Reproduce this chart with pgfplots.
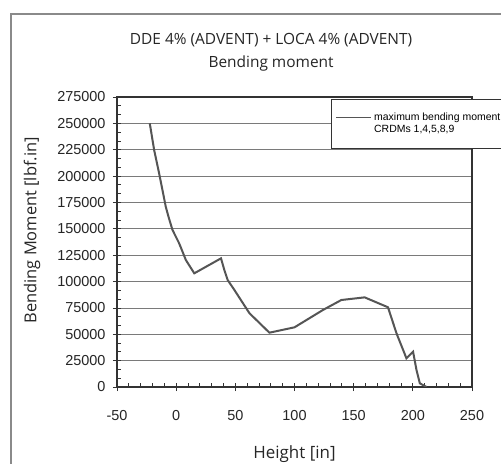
\documentclass[border=0pt]{standalone}
\usepackage{pgfplots}
\pgfplotsset{compat=1.18}
\usepackage{fontspec}
\setmainfont{Liberation Sans}
\newfontfamily\titlefont{Open Sans}
\definecolor{curve}{HTML}{555555}
\definecolor{gridc}{HTML}{7A7A7A}
\definecolor{framec}{HTML}{8A8A8A}
\pgfplotstableread{
h v
-22.3 250000
-18.6 224700
-14.4 202600
-11.6 186800
-8.8 171000
-6.5 161500
-3.1 148900
2.5 136300
8.2 120400
15.3 107800
37.9 122000
40.7 111000
43.5 101500
49.2 92000
61.9 70000
78.8 51500
100.0 56600
124.0 73000
139.6 82500
159.3 85000
179.0 75600
186.2 50900
194.6 27200
200.2 33500
203.1 16100
205.9 3500
211.6 0
}\momentdata
\begin{document}
\begin{tikzpicture}
\path[use as bounding box, clip] (0,0) rectangle (501bp,464bp);
\fill[white] (0,0) rectangle (501bp,464bp);
\draw[framec, line width=1.1bp] (11bp,0) -- (11bp,450bp) -- (520bp,450bp);
\begin{axis}[
  at={(117bp,77bp)}, anchor=south west,
  scale only axis, width=355bp, height=290bp,
  xmin=-50, xmax=250, ymin=0, ymax=275000,
  xtick={-50,0,...,250},
  ytick={0,25000,...,275000},
  minor x tick num=4,
  minor y tick num=2,
  scaled y ticks=false,
  yticklabel style={/pgf/number format/fixed, /pgf/number format/1000 sep={}, xshift=-4bp},
  xticklabel style={yshift=-16bp},
  /pgf/number format/assume math mode=true,
  tick label style={font=\fontsize{14.5}{16}\selectfont, text=black!85},
  xtick pos=bottom, ytick pos=left,
  tick align=center,
  major tick length=8bp, minor tick length=4bp,
  minor x tick style={yshift=2bp},
  minor y tick style={xshift=2bp},
  every tick/.style={black!80, line width=0.8bp},
  ymajorgrids,
  major grid style={gridc, line width=0.8bp},
  axis line style={black!80, line width=1.2bp},
  title={DDE 4\% (ADVENT) + LOCA 4\% (ADVENT)\\Bending moment},
  title style={at={(axis description cs:0.434,1)}, anchor=center, yshift=39bp, align=center, font=\titlefont\fontsize{15.5}{23}\selectfont, text=black!85},
  xlabel={Height [in]},
  xlabel style={at={(axis description cs:0.5,0)}, anchor=center, yshift=-67bp, font=\titlefont\fontsize{17}{19}\selectfont, text=black!85},
  ylabel={Bending Moment [lbf.in]},
  ylabel style={at={(axis description cs:-0.2394,0.54)}, anchor=center, font=\titlefont\fontsize{16.5}{18}\selectfont, text=black!85},
  legend style={at={(axis description cs:0.6028,0.993)}, anchor=north west, draw=black!80, line width=0.8bp, font=\fontsize{10.5}{12}\selectfont, inner xsep=4bp, inner ysep=11bp, cells={anchor=west}},
  legend image code/.code={\draw[curve, line width=1.6bp] (0bp,0bp) -- (35bp,0bp); \path (0bp,-19bp);},
]
\addplot[curve, line width=2bp] table[x=h, y=v] {\momentdata};
\addlegendentry{\begin{tabular}[t]{@{}l@{}}maximum bending moment\hspace{20bp}\\CRDMs 1,4,5,8,9\end{tabular}}
\end{axis}
\end{tikzpicture}
\end{document}
